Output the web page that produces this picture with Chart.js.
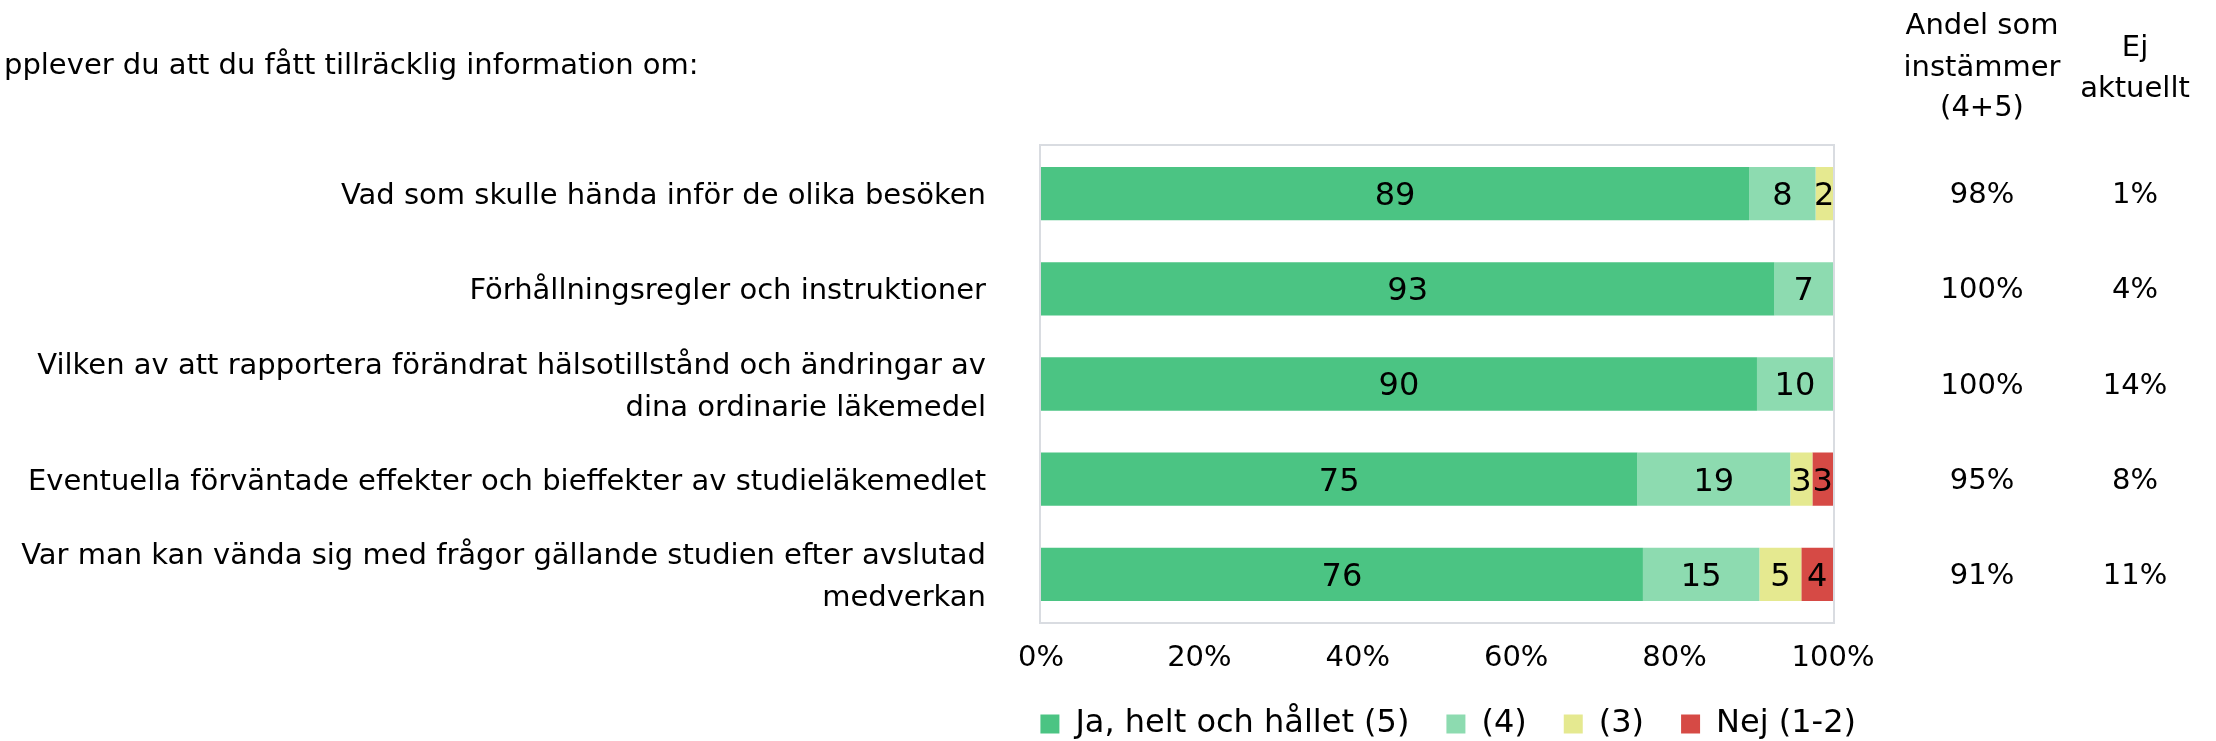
<!DOCTYPE html>
<html lang="sv">
<head>
<meta charset="utf-8">
<title>Tillräcklig information</title>
<script src="https://cdn.jsdelivr.net/npm/chart.js@4/dist/chart.umd.min.js"></script>
<style>
  html, body { margin: 0; padding: 0; background: #fff; }
  canvas { display: block; }
</style>
</head>
<body>
<canvas id="chart-1" width="2216" height="741"></canvas>
<script>
// data
const categories = [
    "Vad som skulle hända inför de olika besöken",
    "Förhållningsregler och instruktioner",
    ["Vilken av att rapportera förändrat hälsotillstånd och ändringar av", "dina ordinarie läkemedel"],
    "Eventuella förväntade effekter och bieffekter av studieläkemedlet",
    ["Var man kan vända sig med frågor gällande studien efter avslutad", "medverkan"]
];
const seriesLabels = ["Ja, helt och hållet (5)", "(4)", "(3)", "Nej (1-2)"];
const valuesJa = [89.4, 92.6, 90.4, 75.3, 76.0];
const values4 = [8.4, 7.4, 9.6, 19.3, 14.7];
const values3 = [2.2, 0, 0, 2.8, 5.3];
const valuesNej = [0, 0, 0, 2.6, 4.0];
const andelInstammer = [98, 100, 100, 95, 91];
const ejAktuellt = [1, 4, 14, 8, 11];
const xTicks = [0, 20, 40, 60, 80, 100];
const title = "pplever du att du fått tillräcklig information om:";

const colors = ["#4BC483", "#8DDBB0", "#E5E990", "#D64A45"];
const police = "'DejaVu Sans', sans-serif";

Chart.defaults.font.family = police;
Chart.defaults.font.size = 29;
Chart.defaults.color = "#000";

// numbers inside the bar segments
const barLabels = {
    id: "barLabels",
    afterDatasetsDraw(chart) {
        const ctx = chart.ctx;
        ctx.save();
        ctx.font = "32px " + police;
        ctx.fillStyle = "#000";
        ctx.textAlign = "center";
        ctx.textBaseline = "middle";
        chart.data.datasets.forEach(function(dataset, i) {
            chart.getDatasetMeta(i).data.forEach(function(bar, j) {
                const v = Math.round(dataset.data[j]);
                if (v > 0) {
                    ctx.fillText(v, (bar.x + bar.base) / 2, bar.y + 3);
                }
            });
        });
        ctx.restore();
    }
};

// grey frame around the plot area
const plotFrame = {
    id: "plotFrame",
    beforeDatasetsDraw(chart) {
        const a = chart.chartArea;
        const ctx = chart.ctx;
        ctx.save();
        ctx.strokeStyle = "#D9DCE1";
        ctx.lineWidth = 2;
        ctx.strokeRect(a.left - 1, a.top - 1, a.right - a.left + 2, a.bottom - a.top + 2);
        ctx.restore();
    }
};

// title and the two columns on the right
const sideTexts = {
    id: "sideTexts",
    afterDraw(chart) {
        const ctx = chart.ctx;
        const y = chart.scales.y;
        ctx.save();
        ctx.font = "29px " + police;
        ctx.fillStyle = "#000";
        ctx.textBaseline = "middle";
        ctx.textAlign = "left";
        ctx.fillText(title, 4, 66);

        ctx.textAlign = "center";
        ctx.fillText("Andel som", 1982, 26);
        ctx.fillText("instämmer", 1982, 68);
        ctx.fillText("(4+5)", 1982, 108);
        ctx.fillText("Ej", 2135, 48);
        ctx.fillText("aktuellt", 2135, 89);

        andelInstammer.forEach(function(v, i) {
            ctx.fillText(v + "%", 1982, y.getPixelForValue(i) + 2);
        });
        ejAktuellt.forEach(function(v, i) {
            ctx.fillText(v + "%", 2135, y.getPixelForValue(i) + 2);
        });
        ctx.restore();
    }
};

const dataChart = {
    labels: categories,
    datasets: [valuesJa, values4, values3, valuesNej].map(function(data, i) {
        return {
            label: seriesLabels[i],
            data: data,
            backgroundColor: colors[i],
            borderWidth: 0,
            barPercentage: 0.56,
            categoryPercentage: 1
        };
    })
};

const configChart = {
    type: "bar",
    data: dataChart,
    options: {
        indexAxis: "y",
        responsive: false,
        animation: false,
        layout: {
            padding: { left: 0, right: 323, top: 146, bottom: -9 }
        },
        scales: {
            x: {
                stacked: true,
                min: 0,
                max: 100,
                afterBuildTicks: function(scale) {
                    scale.ticks = xTicks.map(function(v) { return { value: v }; });
                },
                afterFit: function(scale) { scale.height = 49; },
                grid: { display: false, drawTicks: false },
                border: { display: false },
                ticks: {
                    padding: 19,
                    maxRotation: 0,
                    callback: function(v) { return v + "%"; }
                }
            },
            y: {
                stacked: true,
                afterFit: function(scale) { scale.width = 1041; },
                grid: { display: false, drawTicks: false },
                border: { display: false },
                ticks: {
                    padding: 55,
                    labelOffset: 3,
                    font: { size: 29, lineHeight: 1.45 }
                }
            },
            yRight: {
                type: "category",
                position: "right",
                labels: categories,
                afterFit: function(scale) { scale.width = 60; },
                grid: { display: false, drawTicks: false },
                border: { display: false },
                ticks: { display: false }
            }
        },
        plugins: {
            legend: {
                position: "bottom",
                align: "end",
                labels: {
                    boxWidth: 19,
                    boxHeight: 19,
                    padding: 37,
                    font: { size: 32 }
                }
            },
            tooltip: { enabled: false },
            title: { display: false }
        }
    },
    plugins: [plotFrame, barLabels, sideTexts]
};

const chart = new Chart(
    document.getElementById("chart-1"),
    configChart
);
</script>
</body>
</html>
